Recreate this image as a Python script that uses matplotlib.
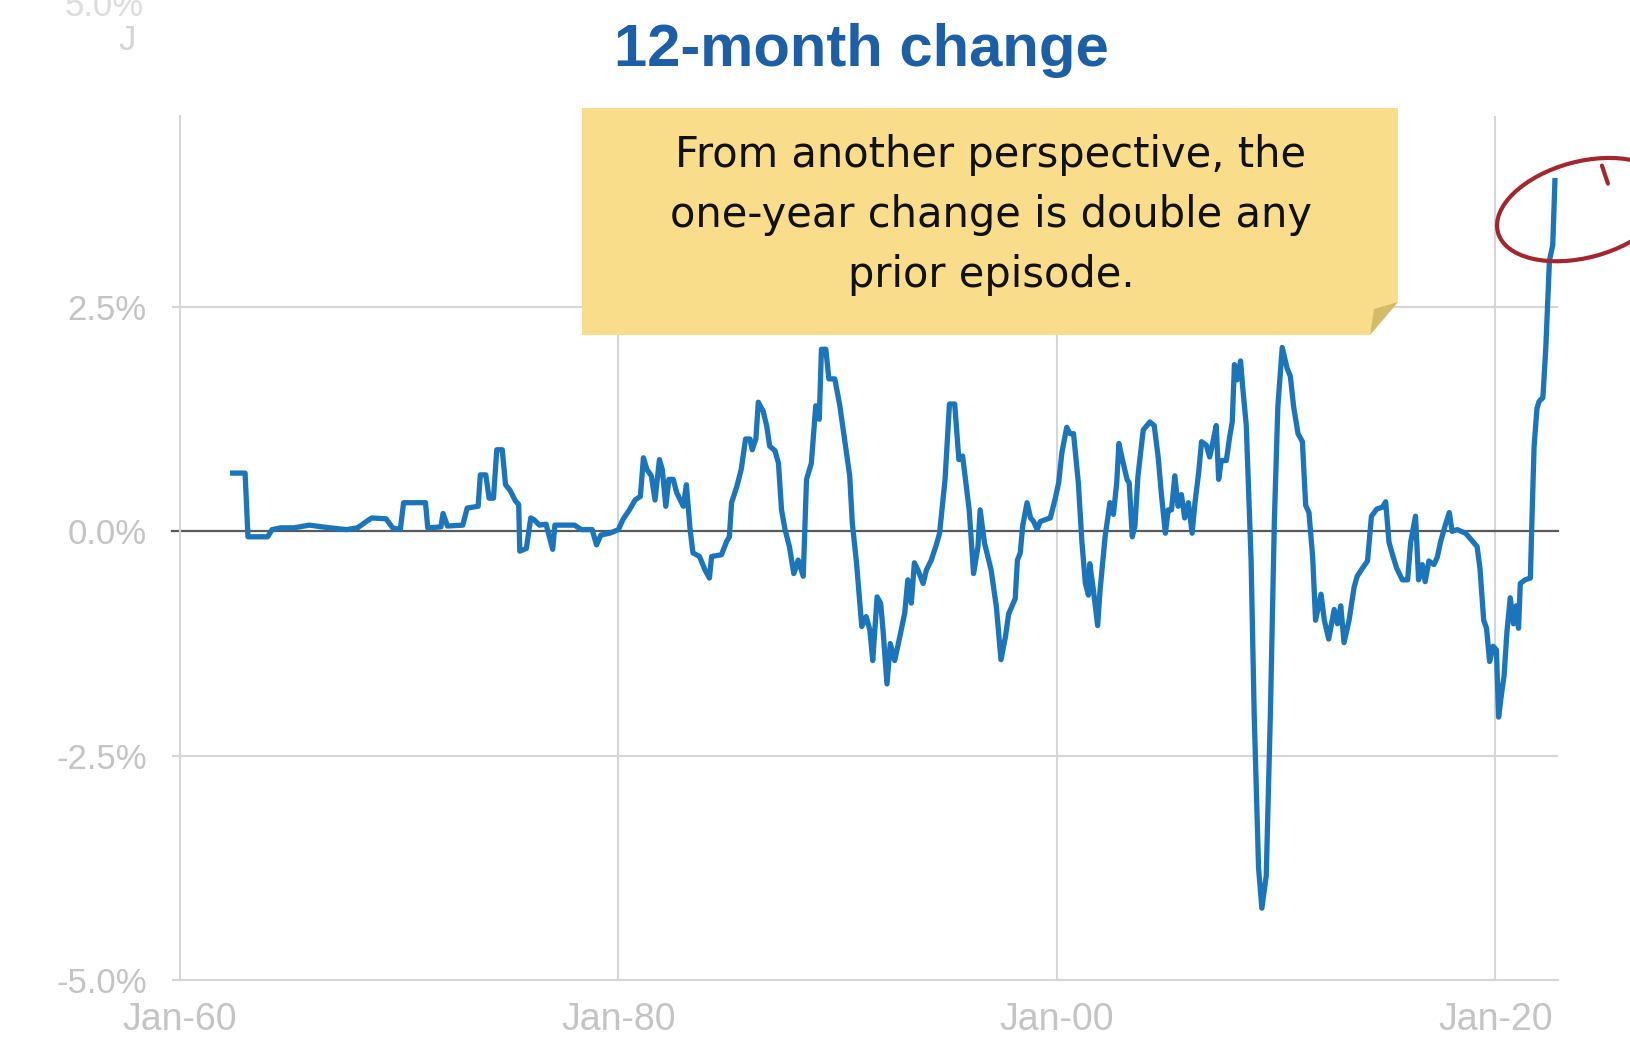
import matplotlib
matplotlib.use('Agg')
import matplotlib.pyplot as plt
from matplotlib.patches import Polygon, Ellipse
from matplotlib.lines import Line2D
from matplotlib.transforms import IdentityTransform

# 12-month change, decimal year -> percent
dates = [
    1962.40, 1962.97, 1963.10, 1964.00, 1964.20, 1964.60, 1965.20, 1965.90, 1966.50, 1967.20,
    1967.60, 1968.10, 1968.50, 1968.75, 1969.40, 1969.70, 1970.05, 1970.20, 1971.20, 1971.30,
    1971.90, 1972.00, 1972.20, 1972.90, 1973.10, 1973.60, 1973.70, 1973.95, 1974.10, 1974.30,
    1974.45, 1974.70, 1974.85, 1975.05, 1975.30, 1975.45, 1975.50, 1975.80, 1976.00, 1976.15,
    1976.40, 1976.70, 1977.00, 1977.10, 1978.00, 1978.30, 1978.80, 1979.00, 1979.20, 1979.60,
    1980.00, 1980.20, 1980.50, 1980.76, 1981.00, 1981.14, 1981.30, 1981.50, 1981.67, 1981.87,
    1982.00, 1982.16, 1982.30, 1982.50, 1982.66, 1982.96, 1983.10, 1983.27, 1983.40, 1983.70,
    1983.95, 1984.15, 1984.25, 1984.70, 1984.94, 1985.06, 1985.16, 1985.40, 1985.60, 1985.80,
    1986.00, 1986.10, 1986.27, 1986.38, 1986.60, 1986.76, 1986.90, 1987.14, 1987.30, 1987.44,
    1987.60, 1987.80, 1988.00, 1988.20, 1988.43, 1988.50, 1988.58, 1988.80, 1989.00, 1989.16,
    1989.26, 1989.46, 1989.60, 1989.87, 1990.10, 1990.55, 1990.67, 1990.86, 1991.10, 1991.30,
    1991.47, 1991.60, 1991.80, 1991.96, 1992.07, 1992.25, 1992.40, 1992.60, 1992.83, 1993.06,
    1993.20, 1993.36, 1993.50, 1993.66, 1993.90, 1994.05, 1994.27, 1994.50, 1994.65, 1994.90,
    1995.10, 1995.34, 1995.53, 1995.70, 1996.00, 1996.20, 1996.40, 1996.50, 1996.70, 1997.00,
    1997.24, 1997.45, 1997.65, 1997.80, 1998.10, 1998.20, 1998.33, 1998.44, 1998.64, 1998.80,
    1998.94, 1999.10, 1999.24, 1999.70, 1999.92, 2000.08, 2000.23, 2000.45, 2000.60, 2000.76,
    2000.98, 2001.14, 2001.30, 2001.44, 2001.50, 2001.67, 2001.86, 2001.97, 2002.20, 2002.42,
    2002.58, 2002.73, 2002.83, 2003.00, 2003.20, 2003.30, 2003.44, 2003.56, 2003.70, 2003.94,
    2004.24, 2004.44, 2004.62, 2004.77, 2004.95, 2005.08, 2005.23, 2005.38, 2005.53, 2005.68,
    2005.83, 2006.00, 2006.17, 2006.30, 2006.47, 2006.60, 2006.82, 2006.97, 2007.12, 2007.27,
    2007.38, 2007.50, 2007.73, 2007.88, 2008.00, 2008.10, 2008.23, 2008.38, 2008.48, 2008.64,
    2008.86, 2009.00, 2009.20, 2009.35, 2009.55, 2009.74, 2009.92, 2010.08, 2010.28, 2010.50,
    2010.65, 2010.80, 2011.00, 2011.20, 2011.35, 2011.50, 2011.67, 2011.80, 2012.05, 2012.20,
    2012.40, 2012.65, 2012.80, 2012.95, 2013.10, 2013.33, 2013.56, 2013.70, 2013.94, 2014.17,
    2014.35, 2014.60, 2014.85, 2015.00, 2015.15, 2015.30, 2015.50, 2015.76, 2016.00, 2016.14,
    2016.36, 2016.50, 2016.67, 2016.80, 2016.97, 2017.20, 2017.35, 2017.50, 2017.73, 2017.90,
    2018.03, 2018.26, 2018.64, 2018.86, 2019.17, 2019.30, 2019.47, 2019.60, 2019.74, 2019.90,
    2020.05, 2020.15, 2020.30, 2020.40, 2020.53, 2020.68, 2020.83, 2020.95, 2021.06, 2021.14,
    2021.36, 2021.60, 2021.67, 2021.77, 2021.90, 2022.00, 2022.17, 2022.30, 2022.47, 2022.62,
    2022.72,
]
change = [
    0.65, 0.65, -0.06, -0.06, 0.02, 0.04, 0.04, 0.07, 0.05, 0.03,
    0.02, 0.04, 0.11, 0.15, 0.14, 0.04, 0.02, 0.32, 0.32, 0.04,
    0.05, 0.20, 0.06, 0.07, 0.26, 0.28, 0.63, 0.63, 0.37, 0.37,
    0.91, 0.91, 0.52, 0.46, 0.34, 0.30, -0.22, -0.19, 0.15, 0.13,
    0.07, 0.08, -0.20, 0.07, 0.07, 0.02, 0.02, -0.15, -0.04, -0.02,
    0.02, 0.13, 0.24, 0.35, 0.39, 0.82, 0.69, 0.62, 0.35, 0.80,
    0.69, 0.28, 0.58, 0.58, 0.43, 0.28, 0.52, 0.02, -0.24, -0.28,
    -0.43, -0.52, -0.28, -0.26, -0.11, -0.06, 0.32, 0.50, 0.69, 1.03,
    1.03, 0.91, 1.03, 1.44, 1.34, 1.18, 0.95, 0.90, 0.76, 0.24,
    0.02, -0.17, -0.47, -0.32, -0.50, 0.02, 0.58, 0.76, 1.40, 1.25,
    2.03, 2.03, 1.70, 1.70, 1.40, 0.62, 0.09, -0.35, -1.06, -0.95,
    -1.10, -1.44, -0.73, -0.80, -1.10, -1.70, -1.25, -1.44, -1.18, -0.91,
    -0.54, -0.80, -0.35, -0.43, -0.58, -0.43, -0.32, -0.15, -0.02, 0.58,
    1.42, 1.42, 0.80, 0.84, 0.24, -0.47, -0.17, 0.24, -0.13, -0.43,
    -0.84, -1.43, -1.18, -0.92, -0.75, -0.32, -0.24, 0.06, 0.32, 0.15,
    0.11, 0.02, 0.11, 0.15, 0.36, 0.54, 0.88, 1.16, 1.09, 1.09,
    0.54, -0.11, -0.58, -0.71, -0.36, -0.66, -1.05, -0.66, -0.06, 0.32,
    0.19, 0.54, 0.98, 0.79, 0.58, 0.54, -0.06, 0.06, 0.62, 1.13,
    1.22, 1.18, 0.83, 0.41, -0.02, 0.24, 0.24, 0.62, 0.28, 0.41,
    0.15, 0.32, -0.02, 0.32, 0.66, 1.00, 0.96, 0.83, 1.00, 1.18,
    0.58, 0.79, 0.79, 1.05, 1.22, 1.86, 1.69, 1.90, 1.60, 1.18,
    -0.32, -2.03, -3.75, -4.20, -3.84, -2.03, 0.11, 1.39, 2.05, 1.82,
    1.73, 1.39, 1.09, 1.00, 0.29, 0.21, -0.29, -0.99, -0.70, -0.99,
    -1.20, -0.87, -1.03, -0.83, -1.24, -0.99, -0.62, -0.50, -0.41, -0.33,
    0.17, 0.25, 0.27, 0.33, -0.12, -0.25, -0.41, -0.54, -0.54, -0.12,
    0.17, -0.54, -0.37, -0.56, -0.33, -0.37, -0.29, -0.12, 0.08, 0.21,
    0.00, 0.02, -0.02, -0.08, -0.17, -0.41, -0.99, -1.08, -1.45, -1.28,
    -1.32, -2.07, -1.78, -1.61, -1.12, -0.74, -1.03, -0.83, -1.08, -0.58,
    -0.54, -0.52, 0.12, 0.95, 1.37, 1.45, 1.49, 2.03, 3.02, 3.19,
    3.91,
]

xtick_years = [1960, 1980, 2000, 2020]
xtick_labels = ['Jan-60', 'Jan-80', 'Jan-00', 'Jan-20']
ytick_values = [-5.0, -2.5, 0.0, 2.5]

title = '12-month change'
note_lines = ['From another perspective, the',
              'one-year change is double any',
              'prior episode.']

W, H = 1630, 1047
fig = plt.figure(figsize=(W / 100, H / 100), dpi=100)
fig.subplots_adjust(left=180 / W, right=1558 / W, bottom=1 - 980 / H, top=1 - 116 / H)
ax = fig.add_subplot(111)

grid_col = '#d6d6d6'
label_col = '#c4c4c4'
sans = ['Liberation Sans', 'DejaVu Sans']

ax.plot(dates, change, color='#1b75bb', lw=3.8, zorder=3)
ax.axhline(0, xmin=-0.006, xmax=1, color='#5a5a5a', lw=1.6, zorder=2, clip_on=False)

ax.set_xlim(1960, 2022.86)
ax.set_ylim(-5, 4.63)
ax.set_xticks(xtick_years)
ax.set_xticklabels(xtick_labels, family=sans)
ax.set_yticks(ytick_values)
ax.set_yticklabels(['%.1f%%' % v for v in ytick_values], family=sans)

ax.grid(True, color=grid_col, lw=1.5)
ax.set_axisbelow(True)
for side in ['top', 'right']:
    ax.spines[side].set_visible(False)
for side in ['left', 'bottom']:
    ax.spines[side].set_color(grid_col)
    ax.spines[side].set_linewidth(1.5)
ax.tick_params(axis='y', length=6, width=1.5, color=grid_col, pad=18,
               labelsize=25, labelcolor=label_col)
ax.tick_params(axis='x', length=0, pad=16, labelsize=27, labelcolor=label_col)

fig.text(861 / W, 1 - 50 / H, title, ha='center', va='center', fontsize=43,
         fontweight='bold', color='#1d5fa6', family=sans)

# leftover labels peeking in at the top-left corner
fig.text(104 / W, 1 - 16 / H, '5.0%', ha='center', va='baseline', fontsize=25,
         color='#dcdcdc', family=sans)
fig.text(127 / W, 1 - 50 / H, 'J', ha='center', va='baseline', fontsize=25,
         color='#d4d4d4', family=sans)


def px(x, y):
    return (x / W, 1 - y / H)


# sticky note with a folded corner
note = Polygon([px(582, 108), px(1398, 108), px(1398, 302), px(1370, 335), px(582, 335)],
               closed=True, facecolor='#f9dd8b', edgecolor='none',
               transform=fig.transFigure, zorder=5)
fig.add_artist(note)
fold = Polygon([px(1398, 302), px(1370, 335), px(1374, 309)], closed=True,
               facecolor='#d4bb6c', edgecolor='none', transform=fig.transFigure, zorder=6)
fig.add_artist(fold)

for i, line in enumerate(note_lines):
    x, y = px(991, 155 + 60 * i)
    fig.text(x, y, line, ha='center', va='center', fontsize=30, color='#111111',
             family='DejaVu Sans', zorder=7)

# circle around the latest reading
peak = ax.transData.transform((dates[-1], change[-1]))
cx, cy = peak[0] + 28, peak[1] - 29
ring = Ellipse((cx, cy), width=176, height=96, angle=15, fill=False,
               edgecolor='#a3262e', lw=3, transform=IdentityTransform(), zorder=8)
fig.add_artist(ring)
hook = Line2D([cx + 19, cx + 25], [cy + 44, cy + 26], color='#a3262e', lw=3,
              solid_capstyle='round', transform=IdentityTransform(), zorder=8)
fig.add_artist(hook)

fig.savefig('out.png', dpi=100, facecolor='white')
